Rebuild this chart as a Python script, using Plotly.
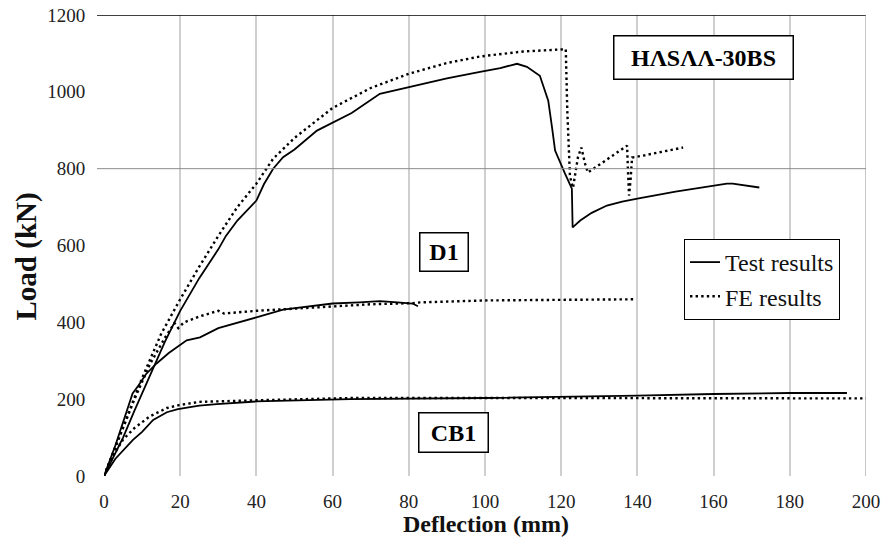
import plotly.graph_objects as go

# ---------------- data ----------------
hasaa_test_x = [0, 2, 5, 8, 10, 13, 16, 20, 25, 30, 32, 35, 40, 42, 44.4, 47, 50, 55.9, 60, 65,
                72.4, 79.8, 90, 98.7, 104, 108.4, 111, 114.4, 116.6, 117.6, 118.4, 121, 122.8,
                123, 125, 128, 132, 136, 140, 150, 163.5, 165, 172]
hasaa_test_y = [0, 40, 100, 170, 215, 280, 350, 430, 515, 590, 625, 665, 717, 760, 800, 830, 850,
                899, 919, 945, 995, 1012, 1035, 1052, 1062, 1073, 1065, 1042, 977, 907, 847, 787,
                748, 647, 665, 685, 704, 714, 722, 740, 761, 761, 751]

hasaa_fe_x = [0, 5, 10, 15, 20, 25, 30, 35, 40, 44.4, 50, 60, 70, 80, 90, 98.7, 110, 121.2,
              121.6, 122.3, 123.1, 124.4, 125.3, 126.2, 127, 130, 134, 137.3, 137.5, 137.8,
              138.2, 138.6, 142, 147, 152]
hasaa_fe_y = [0, 125, 255, 370, 460, 545, 625, 700, 761, 826, 880, 958, 1010, 1047, 1075, 1092,
              1105, 1111, 950, 780, 750, 830, 855, 815, 790, 810, 838, 860, 800, 730, 770, 829,
              835, 845, 855]

d1_test_x = [0, 3, 6, 7.5, 9, 11, 13.8, 17, 21.7, 25.2, 30, 35, 40, 47, 55, 60, 67, 72.4, 77,
             81, 82.4]
d1_test_y = [0, 80, 170, 215, 235, 265, 293, 320, 353, 361, 385, 400, 413, 433, 443, 449, 452,
             455, 452, 449, 442]

d1_fe_x = [0, 4, 8, 12, 16, 18.5, 19.5, 21, 25, 30, 31.5, 40, 47, 60, 70, 81, 83, 100, 120, 139]
d1_fe_y = [0, 100, 200, 290, 360, 398, 385, 400, 415, 430, 423, 430, 434, 443, 447, 450, 452,
           457, 459, 460]

cb1_test_x = [0, 3, 7.6, 10, 12.9, 16.5, 19.4, 25, 29.6, 40, 64.6, 100, 140, 160, 180, 195]
cb1_test_y = [0, 45, 94, 115, 146, 166, 174, 183, 187, 194, 200, 203, 209, 213.5, 216, 216]

cb1_fe_x = [0, 2.5, 5, 8, 12, 16.5, 19.4, 25, 40, 64.6, 100, 150, 200]
cb1_fe_y = [0, 55, 95, 125, 155, 177, 184, 193, 197, 203, 203, 203, 202]

x_ticks = [0, 20, 40, 60, 80, 100, 120, 140, 160, 180, 200]
y_ticks = [0, 200, 400, 600, 800, 1000, 1200]

labels = {"hasaa": "HΛSΛΛ-30BS", "d1": "D1", "cb1": "CB1"}

# ---------------- figure ----------------
SERIF = "Liberation Serif, Times New Roman, serif"
solid = dict(color="black", width=1.8)
dotted = dict(color="black", width=2.4, dash="2.4px,3.2px")

fig = go.Figure()
fig.add_trace(go.Scatter(x=hasaa_test_x, y=hasaa_test_y, mode="lines", line=solid,
                         name="Test results", legendgroup="t", showlegend=True))
fig.add_trace(go.Scatter(x=hasaa_fe_x, y=hasaa_fe_y, mode="lines", line=dotted,
                         name="FE results", legendgroup="f", showlegend=True))
fig.add_trace(go.Scatter(x=d1_test_x, y=d1_test_y, mode="lines", line=solid,
                         name="Test results", legendgroup="t", showlegend=False))
fig.add_trace(go.Scatter(x=d1_fe_x, y=d1_fe_y, mode="lines", line=dotted,
                         name="FE results", legendgroup="f", showlegend=False))
fig.add_trace(go.Scatter(x=cb1_test_x, y=cb1_test_y, mode="lines", line=solid,
                         name="Test results", legendgroup="t", showlegend=False))
fig.add_trace(go.Scatter(x=cb1_fe_x, y=cb1_fe_y, mode="lines", line=dotted,
                         name="FE results", legendgroup="f", showlegend=False))

W, H = 884, 547
L, R, T, B = 104, 18, 15, 71
pw, ph = W - L - R, H - T - B

def px(xp):
    return (xp - L) / pw

def py(yp):
    return (H - B - yp) / ph

box = dict(showarrow=False, xref="paper", yref="paper", xanchor="center", yanchor="middle",
           bordercolor="black", borderwidth=1.5, bgcolor="white", borderpad=2,
           font=dict(family=SERIF, size=24, color="black"))

annotations = [
    dict(text="<b>%s</b>" % labels["hasaa"], x=px(703), y=py(57), width=174, height=38, **box),
    dict(text="<b>%s</b>" % labels["d1"], x=px(443.5), y=py(252.5), width=43, height=33, **box),
    dict(text="<b>%s</b>" % labels["cb1"], x=px(453), y=py(432), width=64, height=34, **box),
    dict(text="<b>Load (kN)</b>", x=px(26), y=py(256.5), xref="paper", yref="paper",
         textangle=-90, showarrow=False, xanchor="center", yanchor="middle",
         font=dict(family=SERIF, size=29, color="#111")),
    dict(text="<b>Deflection (mm)</b>", x=px(486), y=py(524), xref="paper", yref="paper",
         showarrow=False, xanchor="center", yanchor="middle",
         font=dict(family=SERIF, size=24, color="#111")),
]

shapes = [
    dict(type="line", xref="paper", yref="y", x0=px(97), x1=1, y0=800, y1=800,
         line=dict(color="#8c8c8c", width=1)),
    dict(type="line", xref="paper", yref="y", x0=px(97), x1=1, y0=1200, y1=1200,
         line=dict(color="black", width=1.5)),
    dict(type="line", xref="x", yref="paper", x0=200, x1=200, y0=0, y1=1,
         line=dict(color="#8c8c8c", width=1)),
]

fig.update_layout(
    width=W, height=H, autosize=False,
    margin=dict(l=L, r=R, t=T, b=B, pad=0, autoexpand=False),
    paper_bgcolor="white", plot_bgcolor="white",
    font=dict(family=SERIF, color="#222"),
    showlegend=True,
    legend=dict(x=px(684), y=py(239), xanchor="left", yanchor="top",
                bordercolor="black", borderwidth=1, bgcolor="white",
                font=dict(family=SERIF, size=24, color="#111"),
                tracegroupgap=0, itemwidth=30),
    annotations=annotations,
    shapes=shapes,
    xaxis=dict(range=[0, 200], tickvals=x_ticks, ticktext=[str(v) for v in x_ticks],
               showgrid=True, gridcolor="#cfcfcf", gridwidth=2, zeroline=False,
               showline=False, ticks="outside", ticklen=8, tickcolor="rgba(0,0,0,0)",
               automargin=False,
               tickfont=dict(family=SERIF, size=19, color="#222")),
    yaxis=dict(range=[0, 1200], tickvals=y_ticks, ticktext=[str(v) for v in y_ticks],
               showgrid=False, zeroline=False, showline=False, automargin=False,
               ticks="outside", ticklen=14, tickcolor="rgba(0,0,0,0)",
               tickfont=dict(family=SERIF, size=19, color="#222")),
)

fig.write_html("out.html")
